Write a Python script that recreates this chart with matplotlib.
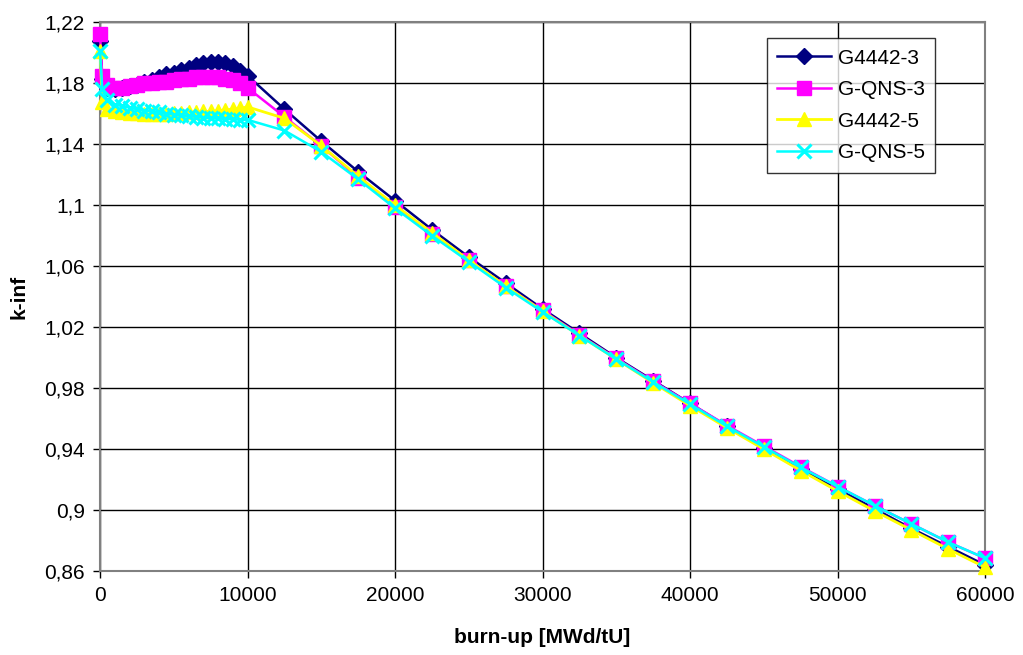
import matplotlib
matplotlib.use('Agg')
import matplotlib.pyplot as plt
from matplotlib.ticker import FuncFormatter, FixedLocator

plt.rcParams['font.family'] = ['Liberation Sans', 'DejaVu Sans']

# burn-up steps [MWd/tU]
burnup = [0, 150] + list(range(500, 10001, 500)) + list(range(12500, 60001, 2500))

# k-inf values
g4442_3 = [1.208, 1.183, 1.177, 1.176, 1.177, 1.178, 1.179, 1.181, 1.182, 1.184,
           1.186, 1.187, 1.189, 1.190, 1.192, 1.193, 1.194, 1.194, 1.193, 1.191,
           1.188, 1.185,
           1.163, 1.142, 1.122, 1.103, 1.084, 1.066, 1.049, 1.032, 1.016, 1.000,
           0.985, 0.970, 0.955, 0.941, 0.927, 0.914, 0.901, 0.888, 0.876, 0.864]
gqns_3 = [1.212, 1.185, 1.179, 1.177, 1.177, 1.178, 1.179, 1.180, 1.180, 1.181,
          1.181, 1.182, 1.183, 1.183, 1.184, 1.184, 1.184, 1.184, 1.183, 1.182,
          1.180, 1.177,
          1.158, 1.139, 1.118, 1.099, 1.081, 1.064, 1.047, 1.031, 1.015, 0.9995,
          0.9845, 0.970, 0.9555, 0.942, 0.9285, 0.9155, 0.903, 0.891, 0.879, 0.8685]
g4442_5 = [1.201, 1.168, 1.163, 1.1615, 1.161, 1.1605, 1.1605, 1.160, 1.160, 1.160,
           1.160, 1.1605, 1.1605, 1.161, 1.161, 1.1615, 1.1615, 1.162, 1.1625, 1.163,
           1.1635, 1.1645,
           1.157, 1.139, 1.119, 1.100, 1.082, 1.064, 1.047, 1.0305, 1.0145, 0.999,
           0.9835, 0.9685, 0.954, 0.940, 0.926, 0.9125, 0.8995, 0.887, 0.8745, 0.8625]
gqns_5 = [1.201, 1.176, 1.169, 1.166, 1.165, 1.164, 1.163, 1.162, 1.1615, 1.161,
          1.160, 1.1595, 1.159, 1.1585, 1.158, 1.1575, 1.157, 1.157, 1.1565, 1.1565,
          1.156, 1.156,
          1.149, 1.135, 1.117, 1.098, 1.080, 1.063, 1.046, 1.030, 1.0145, 0.999,
          0.984, 0.9695, 0.955, 0.9415, 0.928, 0.9155, 0.903, 0.891, 0.879, 0.8685]

x_ticks = [0, 10000, 20000, 30000, 40000, 50000, 60000]
y_ticks = [0.86, 0.90, 0.94, 0.98, 1.02, 1.06, 1.10, 1.14, 1.18, 1.22]

fig = plt.figure(figsize=(10.23, 6.55), dpi=100)
ax = fig.add_axes([0.0978, 0.128, 0.8652, 0.838])

ax.plot(burnup, g4442_3, color='#000080', lw=1.8, marker='D', ms=8.5,
        label='G4442-3', clip_on=False, zorder=3)
ax.plot(burnup, gqns_3, color='#FF00FF', lw=1.8, marker='s', ms=10,
        label='G-QNS-3', clip_on=False, zorder=4)
ax.plot(burnup, g4442_5, color='#FFFF00', lw=2, marker='^', ms=10,
        label='G4442-5', clip_on=False, zorder=5)
ax.plot(burnup, gqns_5, color='#00FFFF', lw=1.8, marker='x', ms=10, mew=2.2,
        label='G-QNS-5', clip_on=False, zorder=6)

ax.set_xlim(0, 60000)
ax.set_ylim(0.86, 1.22)
ax.xaxis.set_major_locator(FixedLocator(x_ticks))
ax.yaxis.set_major_locator(FixedLocator(y_ticks))
ax.yaxis.set_major_formatter(FuncFormatter(
    lambda v, p: f'{v:.2f}'.rstrip('0').rstrip('.').replace('.', ',')))

ax.grid(True, color='black', lw=1)
ax.set_axisbelow(True)
for s in ax.spines.values():
    s.set_color('#808080')
    s.set_linewidth(1.5)
ax.tick_params(labelsize=15, length=5, width=1, direction='out', pad=6)

ax.set_xlabel('burn-up [MWd/tU]', fontsize=15, fontweight='bold', labelpad=16)
ax.set_ylabel('k-inf', fontsize=15, fontweight='bold', labelpad=11)

leg = ax.legend(loc='upper right', bbox_to_anchor=(0.9435, 0.971), borderaxespad=0,
                fontsize=15, frameon=True, fancybox=False, edgecolor='black',
                handlelength=2.6, borderpad=0.5, labelspacing=0.6,
                handletextpad=0.3)
leg.get_frame().set_linewidth(1)

fig.savefig('out.png', dpi=100, facecolor='white')
